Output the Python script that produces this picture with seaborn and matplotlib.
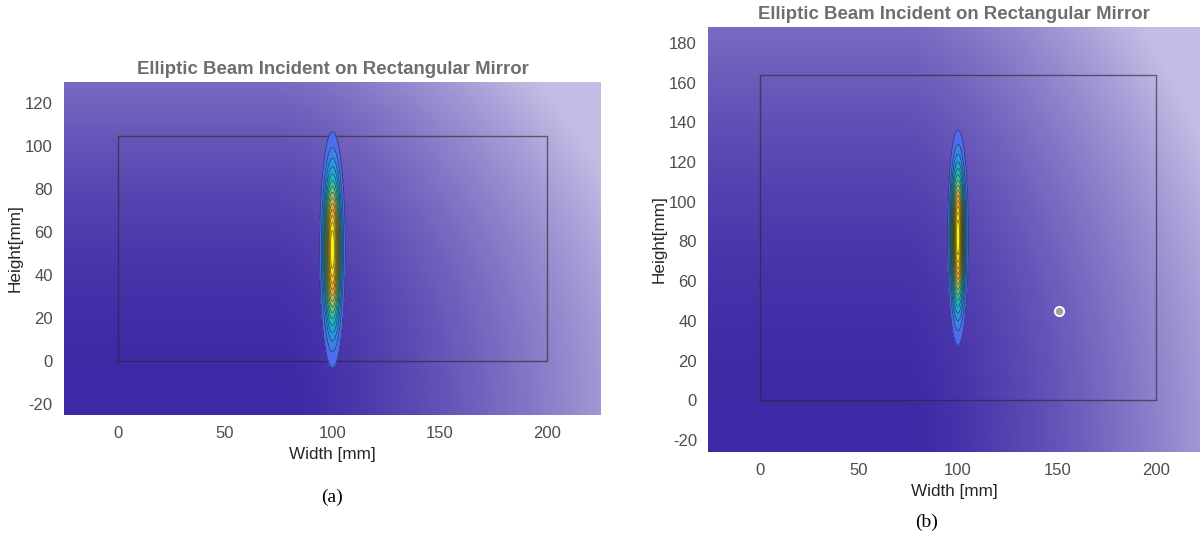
import numpy as np
import matplotlib
matplotlib.use("Agg")
import matplotlib.pyplot as plt
from matplotlib.colors import LinearSegmentedColormap, to_rgb
import seaborn as sns
import pandas as pd

# ---- data ----
title_txt = "Elliptic Beam Incident on Rectangular Mirror"
xlabel_txt = "Width [mm]"
ylabel_txt = "Height[mm]"
captions = ["(a)", "(b)"]

# mirror outline (width x height in mm)
mirror_w = [200, 200]
mirror_h = [105, 164]

# beam centre and gaussian widths (mm)
beam_cx = [100, 100]
beam_cy = [52, 82]
beam_sx = [2.6, 2.3]
beam_sy = [23.8, 23.5]

# limits
xlims = [(-25, 225), (-26, 222)]
ylims = [(-25, 130), (-26, 188)]
xticks = [0, 50, 100, 150, 200]
yticks = [[-20, 0, 20, 40, 60, 80, 100, 120],
          [-20, 0, 20, 40, 60, 80, 100, 120, 140, 160, 180]]

# extra point in (b)
pt_x = [151]
pt_y = [45]

sns.set_theme(style="white")
plt.rcParams['font.family'] = ['Liberation Sans', 'DejaVu Sans']
plt.rcParams['axes.unicode_minus'] = False

parula_like = LinearSegmentedColormap.from_list(
    "parula_like",
    ['#5462f2', '#3a84ea', '#20a6dc', '#2cbfb2', '#78c47c',
     '#c6b852', '#f0ae30', '#f6d622', '#f9fb0e'])

dark = np.array(to_rgb('#3d28a5'))
light = np.array(to_rgb('#c4bce4'))

fig = plt.figure(figsize=(12, 5.38), dpi=100)
axes = [fig.add_axes([0.0533, 0.2286, 0.4475, 0.619]),
        fig.add_axes([0.59, 0.16, 0.41, 0.79])]
cap_y = [0.076, 0.03]
cap_x = [0.277, 0.772]

for i, ax in enumerate(axes):
    x0, x1 = xlims[i]
    y0, y1 = ylims[i]

    # background gradient
    u = np.linspace(0, 1, 300)
    v = np.linspace(0, 1, 200)
    U, V = np.meshgrid(u, v)
    f = 0.75 * (np.clip(U - 0.4, 0, None) / 0.6) ** 1.4 + 0.45 * V ** 2
    f = np.clip(f, 0, 1)
    img = dark[None, None, :] + (light - dark)[None, None, :] * f[:, :, None]
    ax.imshow(img, extent=[x0, x1, y0, y1], origin='lower', aspect='auto', zorder=0)

    # mirror outline
    rect = pd.DataFrame({"x": [0, mirror_w[i], mirror_w[i], 0, 0],
                         "y": [0, 0, mirror_h[i], mirror_h[i], 0]})
    sns.lineplot(data=rect, x="x", y="y", sort=False, estimator=None,
                 color='#2a2a2a', lw=1.0, alpha=0.65, ax=ax, zorder=2)

    # beam
    gx = np.linspace(beam_cx[i] - 15, beam_cx[i] + 15, 300)
    gy = np.linspace(beam_cy[i] - 70, beam_cy[i] + 70, 500)
    GX, GY = np.meshgrid(gx, gy)
    Z = np.exp(-((GX - beam_cx[i]) ** 2 / (2 * beam_sx[i] ** 2)
                 + (GY - beam_cy[i]) ** 2 / (2 * beam_sy[i] ** 2)))
    levels = np.linspace(0.07, 1.0, 15)
    ax.contourf(GX, GY, Z, levels=levels, cmap=parula_like, zorder=3)
    ax.contour(GX, GY, Z, levels=levels[:-1], colors='#151515',
               linewidths=0.55, alpha=0.6, zorder=4)

    if i == 1:
        sns.scatterplot(x=pt_x, y=pt_y, s=45, color='#a0a0a0',
                        edgecolor='white', linewidth=1.3, ax=ax, zorder=5)

    ax.set_xlim(x0, x1)
    ax.set_ylim(y0, y1)
    ax.set_xticks(xticks)
    ax.set_yticks(yticks[i])
    for s in ax.spines.values():
        s.set_visible(False)
    ax.tick_params(length=0, labelsize=12, labelcolor='#4d4d4d', pad=8)
    ax.set_xlabel(xlabel_txt, fontsize=12.3, color='#262626', labelpad=4)
    ax.set_ylabel(ylabel_txt, fontsize=12.3, color='#262626', labelpad=2)
    ax.set_title(title_txt, fontsize=13.4, fontweight='bold', color='#6e6e6e', pad=6)
    fig.text(cap_x[i], cap_y[i], captions[i], ha='center', va='center',
             fontsize=14, family=['Liberation Serif', 'DejaVu Serif'], color='black')

fig.savefig("out.png", dpi=100)
